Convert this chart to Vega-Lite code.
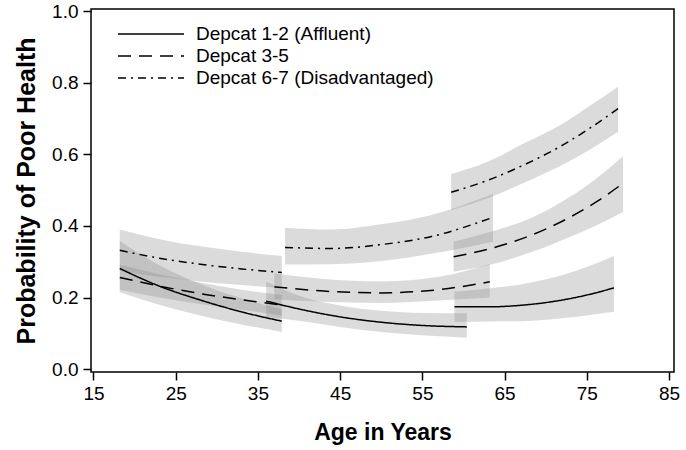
{
  "$schema": "https://vega.github.io/schema/vega-lite/v6.json",
  "width": 583,
  "height": 363,
  "autosize": "none",
  "padding": {"left": 91, "top": 9, "right": 12, "bottom": 78},
  "background": "white",
  "config": {
    "font": "Liberation Sans",
    "view": {"stroke": "black", "strokeWidth": 1.5},
    "axis": {
      "grid": false,
      "domain": false,
      "tickColor": "black",
      "tickWidth": 1.5,
      "tickSize": 8,
      "labelColor": "black",
      "labelFont": "Liberation Sans",
      "labelFontSize": 19,
      "titleFont": "Liberation Sans",
      "titleFontWeight": "bold",
      "titleColor": "black"
    }
  },
  "data": {
    "values": [
      {"g": "Depcat 1-2 (Affluent)", "c": 1, "age": 18.2, "est": 0.281, "lo": 0.215, "hi": 0.358},
      {"g": "Depcat 1-2 (Affluent)", "c": 1, "age": 23, "est": 0.232, "lo": 0.180, "hi": 0.290},
      {"g": "Depcat 1-2 (Affluent)", "c": 1, "age": 28, "est": 0.193, "lo": 0.150, "hi": 0.238},
      {"g": "Depcat 1-2 (Affluent)", "c": 1, "age": 33, "est": 0.160, "lo": 0.125, "hi": 0.198},
      {"g": "Depcat 1-2 (Affluent)", "c": 1, "age": 37.9, "est": 0.134, "lo": 0.104, "hi": 0.168},
      {"g": "Depcat 3-5", "c": 1, "age": 18.2, "est": 0.256, "lo": 0.222, "hi": 0.292},
      {"g": "Depcat 3-5", "c": 1, "age": 23, "est": 0.232, "lo": 0.200, "hi": 0.265},
      {"g": "Depcat 3-5", "c": 1, "age": 28, "est": 0.211, "lo": 0.182, "hi": 0.242},
      {"g": "Depcat 3-5", "c": 1, "age": 33, "est": 0.194, "lo": 0.166, "hi": 0.222},
      {"g": "Depcat 3-5", "c": 1, "age": 37.9, "est": 0.179, "lo": 0.150, "hi": 0.208},
      {"g": "Depcat 6-7 (Disadvantaged)", "c": 1, "age": 18.2, "est": 0.332, "lo": 0.275, "hi": 0.390},
      {"g": "Depcat 6-7 (Disadvantaged)", "c": 1, "age": 23, "est": 0.310, "lo": 0.258, "hi": 0.363},
      {"g": "Depcat 6-7 (Disadvantaged)", "c": 1, "age": 28, "est": 0.293, "lo": 0.245, "hi": 0.343},
      {"g": "Depcat 6-7 (Disadvantaged)", "c": 1, "age": 33, "est": 0.280, "lo": 0.235, "hi": 0.328},
      {"g": "Depcat 6-7 (Disadvantaged)", "c": 1, "age": 37.9, "est": 0.270, "lo": 0.226, "hi": 0.316},
      {"g": "Depcat 1-2 (Affluent)", "c": 2, "age": 36, "est": 0.190, "lo": 0.146, "hi": 0.244},
      {"g": "Depcat 1-2 (Affluent)", "c": 2, "age": 40, "est": 0.168, "lo": 0.135, "hi": 0.205},
      {"g": "Depcat 1-2 (Affluent)", "c": 2, "age": 45, "est": 0.146, "lo": 0.118, "hi": 0.178},
      {"g": "Depcat 1-2 (Affluent)", "c": 2, "age": 50, "est": 0.131, "lo": 0.104, "hi": 0.163},
      {"g": "Depcat 1-2 (Affluent)", "c": 2, "age": 55, "est": 0.122, "lo": 0.095, "hi": 0.157},
      {"g": "Depcat 1-2 (Affluent)", "c": 2, "age": 60.4, "est": 0.118, "lo": 0.088, "hi": 0.156},
      {"g": "Depcat 3-5", "c": 2, "age": 37, "est": 0.230, "lo": 0.195, "hi": 0.268},
      {"g": "Depcat 3-5", "c": 2, "age": 43, "est": 0.218, "lo": 0.188, "hi": 0.252},
      {"g": "Depcat 3-5", "c": 2, "age": 50, "est": 0.213, "lo": 0.185, "hi": 0.245},
      {"g": "Depcat 3-5", "c": 2, "age": 57, "est": 0.222, "lo": 0.192, "hi": 0.258},
      {"g": "Depcat 3-5", "c": 2, "age": 63.2, "est": 0.244, "lo": 0.200, "hi": 0.294},
      {"g": "Depcat 6-7 (Disadvantaged)", "c": 2, "age": 38.3, "est": 0.340, "lo": 0.292, "hi": 0.395},
      {"g": "Depcat 6-7 (Disadvantaged)", "c": 2, "age": 44, "est": 0.337, "lo": 0.293, "hi": 0.390},
      {"g": "Depcat 6-7 (Disadvantaged)", "c": 2, "age": 50, "est": 0.348, "lo": 0.302, "hi": 0.405},
      {"g": "Depcat 6-7 (Disadvantaged)", "c": 2, "age": 56, "est": 0.370, "lo": 0.322, "hi": 0.430},
      {"g": "Depcat 6-7 (Disadvantaged)", "c": 2, "age": 63.6, "est": 0.424, "lo": 0.356, "hi": 0.490},
      {"g": "Depcat 1-2 (Affluent)", "c": 3, "age": 58.9, "est": 0.174, "lo": 0.132, "hi": 0.216},
      {"g": "Depcat 1-2 (Affluent)", "c": 3, "age": 63, "est": 0.174, "lo": 0.133, "hi": 0.225},
      {"g": "Depcat 1-2 (Affluent)", "c": 3, "age": 67.3, "est": 0.179, "lo": 0.134, "hi": 0.238},
      {"g": "Depcat 1-2 (Affluent)", "c": 3, "age": 72, "est": 0.193, "lo": 0.142, "hi": 0.262},
      {"g": "Depcat 1-2 (Affluent)", "c": 3, "age": 75, "est": 0.207, "lo": 0.150, "hi": 0.285},
      {"g": "Depcat 1-2 (Affluent)", "c": 3, "age": 78.3, "est": 0.227, "lo": 0.160, "hi": 0.316},
      {"g": "Depcat 3-5", "c": 3, "age": 58.8, "est": 0.314, "lo": 0.272, "hi": 0.356},
      {"g": "Depcat 3-5", "c": 3, "age": 63, "est": 0.335, "lo": 0.290, "hi": 0.382},
      {"g": "Depcat 3-5", "c": 3, "age": 68, "est": 0.372, "lo": 0.325, "hi": 0.420},
      {"g": "Depcat 3-5", "c": 3, "age": 73, "est": 0.425, "lo": 0.370, "hi": 0.482},
      {"g": "Depcat 3-5", "c": 3, "age": 76, "est": 0.465, "lo": 0.400, "hi": 0.530},
      {"g": "Depcat 3-5", "c": 3, "age": 79.4, "est": 0.519, "lo": 0.439, "hi": 0.595},
      {"g": "Depcat 6-7 (Disadvantaged)", "c": 3, "age": 58.5, "est": 0.494, "lo": 0.444, "hi": 0.545},
      {"g": "Depcat 6-7 (Disadvantaged)", "c": 3, "age": 63, "est": 0.528, "lo": 0.478, "hi": 0.580},
      {"g": "Depcat 6-7 (Disadvantaged)", "c": 3, "age": 67.3, "est": 0.570, "lo": 0.520, "hi": 0.630},
      {"g": "Depcat 6-7 (Disadvantaged)", "c": 3, "age": 72, "est": 0.625, "lo": 0.570, "hi": 0.685},
      {"g": "Depcat 6-7 (Disadvantaged)", "c": 3, "age": 75.5, "est": 0.675, "lo": 0.615, "hi": 0.738},
      {"g": "Depcat 6-7 (Disadvantaged)", "c": 3, "age": 78.8, "est": 0.728, "lo": 0.663, "hi": 0.789}
    ]
  },
  "layer": [
    {
      "mark": {"type": "area", "interpolate": "monotone", "fill": "#888888", "fillOpacity": 0.3, "stroke": null},
      "encoding": {
        "x": {"field": "age", "type": "quantitative", "scale": {"domain": [14.7, 85.6], "nice": false, "zero": false},
              "axis": {"values": [15, 25, 35, 45, 55, 65, 75, 85], "title": "Age in Years", "titleFontSize": 23, "labelPadding": 4, "titlePadding": 18}},
        "y": {"field": "lo", "type": "quantitative", "scale": {"domain": [-0.008, 1.006], "nice": false},
              "axis": {"values": [0, 0.2, 0.4, 0.6, 0.8, 1.0], "format": ".1f", "title": "Probability of Poor Health", "titleFontSize": 25, "labelPadding": 5, "titlePadding": 12}},
        "y2": {"field": "hi"},
        "detail": [{"field": "g"}, {"field": "c"}]
      }
    },
    {
      "mark": {"type": "line", "interpolate": "monotone", "color": "black", "strokeWidth": 1.5},
      "encoding": {
        "x": {"field": "age", "type": "quantitative"},
        "y": {"field": "est", "type": "quantitative"},
        "detail": {"field": "c"},
        "strokeDash": {
          "field": "g", "type": "nominal",
          "scale": {"domain": ["Depcat 1-2 (Affluent)", "Depcat 3-5", "Depcat 6-7 (Disadvantaged)"], "range": [[1, 0], [13, 8], [8, 5, 2, 5]]},
          "legend": {
            "title": null, "orient": "none", "legendX": 48, "legendY": 13,
            "symbolType": "M-3,0H3", "symbolSize": 484, "symbolStrokeColor": "black", "symbolStrokeWidth": 1.5, "symbolFillColor": "transparent",
            "labelFontSize": 19, "labelFont": "Liberation Sans", "labelColor": "black", "labelOffset": 33, "labelLimit": 0, "rowPadding": 0
          }
        }
      }
    }
  ]
}
